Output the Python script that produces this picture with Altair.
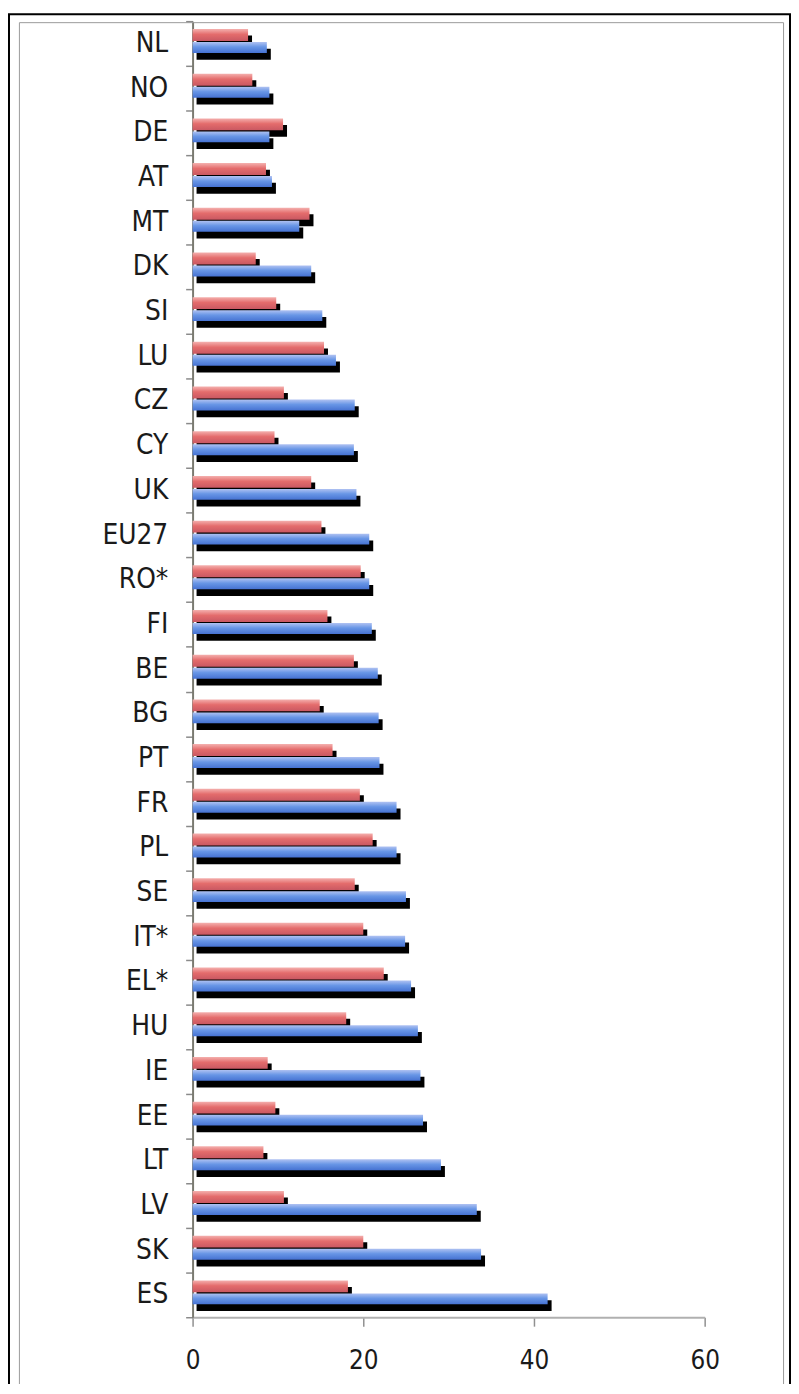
import altair as alt
import pandas as pd

countries = ["NL", "NO", "DE", "AT", "MT", "DK", "SI", "LU", "CZ", "CY", "UK", "EU27",
             "RO*", "FI", "BE", "BG", "PT", "FR", "PL", "SE", "IT*", "EL*", "HU", "IE",
             "EE", "LT", "LV", "SK", "ES"]
series_red = [6.5, 7.0, 10.6, 8.6, 13.7, 7.4, 9.8, 15.4, 10.7, 9.6, 13.9, 15.1,
              19.7, 15.8, 18.9, 14.9, 16.4, 19.6, 21.1, 19.0, 20.0, 22.4, 18.0, 8.8,
              9.7, 8.3, 10.7, 20.0, 18.2]
series_blue = [8.7, 9.0, 9.0, 9.3, 12.5, 13.9, 15.2, 16.8, 19.0, 18.9, 19.2, 20.7,
               20.7, 21.0, 21.7, 21.8, 21.9, 23.9, 23.9, 25.0, 24.9, 25.6, 26.4, 26.7,
               27.0, 29.1, 33.3, 33.8, 41.6]
x_ticks = [0, 20, 40, 60]

df = pd.DataFrame({"country": countries, "red": series_red, "blue": series_blue})

FONT = "DejaVu Sans Condensed, DejaVu Sans, sans-serif"

y_enc = alt.Y("country:N", sort=countries,
              scale=alt.Scale(paddingInner=0, paddingOuter=0),
              axis=alt.Axis(title=None, tickBand="extent", grid=False, domainColor="#7a7a70",
                            domainWidth=2, tickColor="#8a8a8a", tickSize=7, tickWidth=1.5,
                            labelFont=FONT, labelFontSize=28, labelColor="#1a1a1a",
                            labelPadding=18))
x_scale = alt.Scale(domain=[0, 60], nice=False, zero=True)
x_axis = alt.Axis(title=None, values=x_ticks, grid=False, domainColor="#b0b0b0",
                  domainWidth=2, tickColor="#909090", tickSize=9, tickWidth=1.5,
                  labelFont=FONT, labelFontSize=26, labelColor="#1a1a1a",
                  labelPadding=22, labelFlush=False)

red_grad = alt.Gradient(gradient="linear",
                        stops=[alt.GradientStop(color="#f4b0ae", offset=0),
                               alt.GradientStop(color="#e46c6c", offset=0.45),
                               alt.GradientStop(color="#c95862", offset=1)],
                        x1=0, x2=0, y1=0, y2=1)
blue_grad = alt.Gradient(gradient="linear",
                         stops=[alt.GradientStop(color="#b0c2f2", offset=0),
                                alt.GradientStop(color="#6896e6", offset=0.45),
                                alt.GradientStop(color="#4672d2", offset=1)],
                         x1=0, x2=0, y1=0, y2=1)

base = alt.Chart(df)

red_shadow = base.mark_bar(color="black", height=12, yOffset=-2.0, xOffset=4, x2Offset=5).encode(
    x=alt.X("red:Q", scale=x_scale, axis=x_axis), y=y_enc)
red_bar = base.mark_bar(color=red_grad, height=12, yOffset=-8.6).encode(
    x=alt.X("red:Q", scale=x_scale, axis=x_axis), y=y_enc)
blue_shadow = base.mark_bar(color="black", height=11, yOffset=10.8, xOffset=4, x2Offset=5).encode(
    x=alt.X("blue:Q", scale=x_scale, axis=x_axis), y=y_enc)
blue_bar = base.mark_bar(color=blue_grad, height=11, yOffset=4).encode(
    x=alt.X("blue:Q", scale=x_scale, axis=x_axis), y=y_enc)

frame_df = pd.DataFrame({"k": [0]})
outer_frame = alt.Chart(frame_df).mark_rect(fill="transparent", stroke="black", strokeWidth=2).encode(
    x=alt.value(-185), x2=alt.value(602), y=alt.value(-7), y2=alt.value(1400))
inner_frame = alt.Chart(frame_df).mark_rect(fill="transparent", stroke="#9a9a9a", strokeWidth=1).encode(
    x=alt.value(-174.5), x2=alt.value(595.5), y=alt.value(1.5), y2=alt.value(1400))

chart = alt.layer(outer_frame, inner_frame, red_shadow, red_bar, blue_shadow, blue_bar).properties(
    width=516, height=1306,
    background="white",
    autosize=alt.AutoSizeParams(type="none"),
    padding={"left": 186, "top": 8, "right": 87, "bottom": 62},
).configure_view(strokeWidth=0, stroke="transparent")

chart.save("out.html", embed_options={"renderer": "svg", "actions": False})
